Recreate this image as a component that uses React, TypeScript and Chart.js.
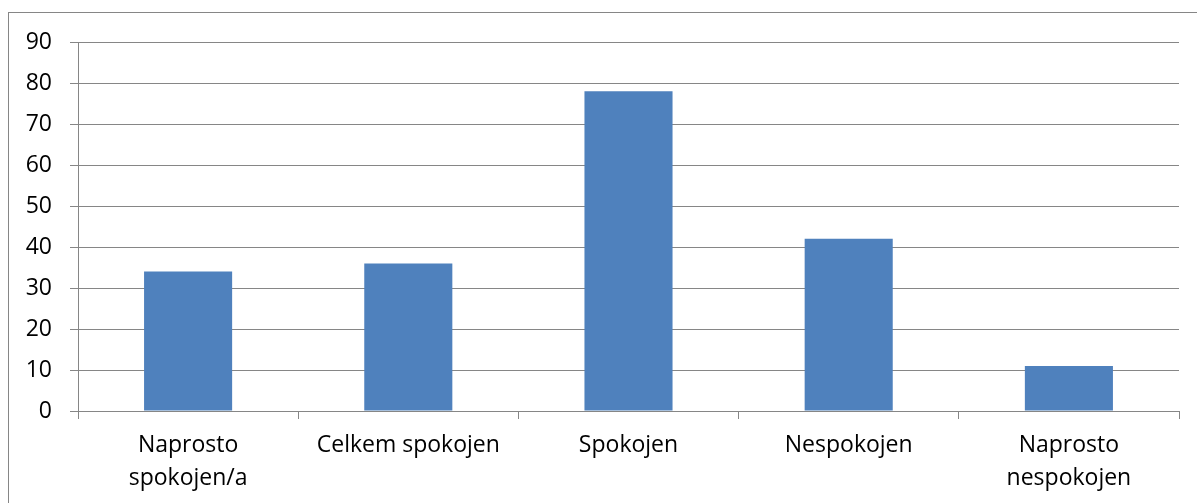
import React, { useEffect, useRef } from "react";
import { Chart, registerables } from "chart.js";

Chart.register(...registerables);

const categories: (string | string[])[] = [
  ["Naprosto", "spokojen/a"],
  "Celkem spokojen",
  "Spokojen",
  "Nespokojen",
  ["Naprosto", "nespokojen"],
];
const values: number[] = [34, 36, 78, 42, 11];
const yMin = 0;
const yMax = 90;
const yStep = 10;

const FONT = "'Open Sans', 'Noto Sans', sans-serif";
const GRID = "#868686";

const frame = {
  id: "frame",
  beforeDraw(chart: any) {
    const ctx = chart.ctx;
    ctx.save();
    ctx.fillStyle = "#ffffff";
    ctx.fillRect(0, 0, chart.width, chart.height);
    ctx.strokeStyle = GRID;
    ctx.lineWidth = 1;
    ctx.strokeRect(8.5, 12.5, 1400, 700);
    ctx.restore();
  },
};

export default function App() {
  const ref = useRef<HTMLCanvasElement>(null);
  useEffect(() => {
    if (!ref.current) return;
    const chart = new Chart(ref.current, {
      type: "bar",
      data: {
        labels: categories,
        datasets: [
          {
            data: values,
            backgroundColor: "#4F81BD",
            categoryPercentage: 1,
            barPercentage: 0.4,
          },
        ],
      },
      options: {
        animation: false,
        responsive: false,
        maintainAspectRatio: false,
        layout: { padding: { left: 0, top: 42, right: 18, bottom: 0 } },
        plugins: { legend: { display: false }, tooltip: { enabled: false } },
        scales: {
          x: {
            offset: true,
            grid: {
              offset: true,
              drawOnChartArea: false,
              drawTicks: true,
              tickLength: 8,
              color: GRID,
            },
            border: { color: GRID, width: 1 },
            ticks: {
              color: "#000000",
              font: { family: FONT, size: 23, lineHeight: 1.43 },
              padding: 10,
              maxRotation: 0,
              autoSkip: false,
            },
            afterFit: (s: any) => {
              s.height = 92;
            },
          },
          y: {
            min: yMin,
            max: yMax,
            grid: { color: GRID, tickLength: 8, lineWidth: 1 },
            border: { color: GRID, width: 1 },
            ticks: {
              stepSize: yStep,
              color: "#000000",
              font: { family: FONT, size: 23 },
              padding: 18,
            },
            afterFit: (s: any) => {
              s.width = 78;
            },
          },
        },
      },
      plugins: [frame],
    });
    return () => chart.destroy();
  }, []);
  return (
    <div style={{ position: "fixed", left: 0, top: 0, width: 1197, height: 503, overflow: "hidden" }}>
      <canvas ref={ref} width={1197} height={503} style={{ display: "block" }} />
    </div>
  );
}
